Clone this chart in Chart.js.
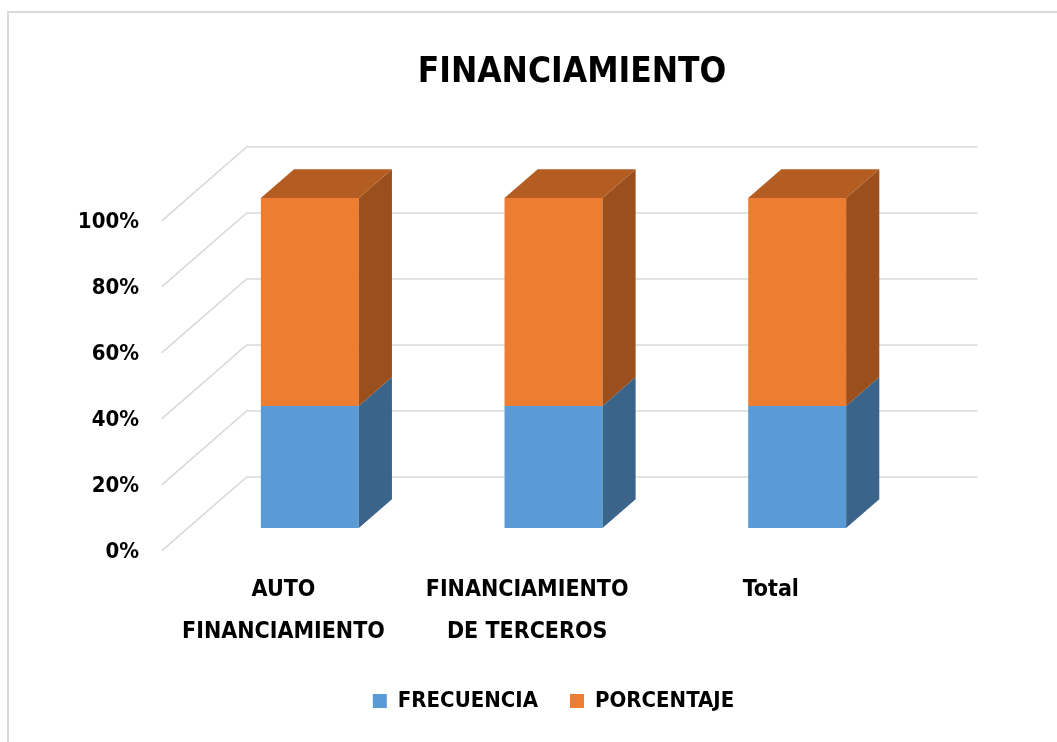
<!DOCTYPE html>
<html lang="es">
<head>
  <meta charset="UTF-8">
  <title>Financiamiento</title>
  <script src="https://cdn.jsdelivr.net/npm/chart.js"></script>
  <style>
    body { margin: 0; background: #fff; }
    canvas { display: block; }
  </style>
</head>
<body>
  <canvas id="finChart" width="1057" height="742"></canvas>
  <script>
    // datos
    const categories = [['AUTO', 'FINANCIAMIENTO'], ['FINANCIAMIENTO', 'DE TERCEROS'], 'Total'];
    const frecuencia = [37, 37, 37];
    const porcentaje = [63, 63, 63];
    const yTicks = [0, 20, 40, 60, 80, 100];

    const FONT = "'DejaVu Sans Condensed', 'Liberation Sans Narrow', sans-serif";

    // profundidad 3D (vector del piso), fracciones para plano frontal / barra / fondo
    const DEPTH = { x: 85, y: -74 };
    const FRONT = -0.31, BAR = 0.39, BACK = 0.69;

    const shade = {
      blue: { side: '#3A6489', top: '#4A80B0' },
      orange: { side: '#9A4F1D', top: '#B35D22' }
    };

    const threeD = {
      id: 'threeD',
      beforeDraw(chart) {
        const ctx = chart.ctx;
        ctx.save();
        ctx.fillStyle = '#fff';
        ctx.fillRect(0, 0, chart.width, chart.height);
        // marco
        ctx.strokeStyle = '#d9d9d9';
        ctx.lineWidth = 2;
        ctx.beginPath();
        ctx.moveTo(8, 742);
        ctx.lineTo(8, 12);
        ctx.lineTo(1057, 12);
        ctx.stroke();
        // titulo
        ctx.fillStyle = '#000';
        ctx.font = 'bold 35px ' + FONT;
        ctx.textAlign = 'center';
        ctx.textBaseline = 'middle';
        ctx.fillText('FINANCIAMIENTO', 572, 73);
        ctx.restore();
      },
      beforeDatasetsDraw(chart) {
        const ctx = chart.ctx;
        const y = chart.scales.y;
        const a = chart.chartArea;
        ctx.save();
        ctx.strokeStyle = '#d9d9d9';
        ctx.lineWidth = 1.5;
        yTicks.forEach(v => {
          const py = y.getPixelForValue(v);
          ctx.beginPath();
          ctx.moveTo(a.left + FRONT * DEPTH.x, py + FRONT * DEPTH.y);
          ctx.lineTo(a.left + BACK * DEPTH.x, py + BACK * DEPTH.y);
          ctx.lineTo(a.right + BACK * DEPTH.x, py + BACK * DEPTH.y);
          ctx.stroke();
        });
        // etiquetas eje y
        ctx.fillStyle = '#000';
        ctx.font = 'bold 22px ' + FONT;
        ctx.textAlign = 'right';
        ctx.textBaseline = 'middle';
        yTicks.forEach(v => {
          const py = y.getPixelForValue(v) + FRONT * DEPTH.y;
          ctx.fillText(v + '%', 139, py + 1);
        });
        // etiquetas eje x
        const x = chart.scales.x;
        ctx.font = 'bold 23px ' + FONT;
        ctx.textAlign = 'center';
        categories.forEach((c, i) => {
          const px = x.getPixelForValue(i) + FRONT * DEPTH.x;
          const lines = Array.isArray(c) ? c : [c];
          lines.forEach((t, j) => {
            ctx.fillText(t, px, 590 + j * 42);
          });
        });
        ctx.restore();
      },
      afterDatasetsDraw(chart) {
        const ctx = chart.ctx;
        const dx = BAR * DEPTH.x, dy = BAR * DEPTH.y;
        const keys = ['blue', 'orange'];
        ctx.save();
        chart.data.datasets.forEach((ds, di) => {
          const meta = chart.getDatasetMeta(di);
          meta.data.forEach(bar => {
            const l = bar.x - bar.width / 2, r = bar.x + bar.width / 2;
            const top = Math.min(bar.y, bar.base), bot = Math.max(bar.y, bar.base);
            // cara lateral
            ctx.fillStyle = shade[keys[di]].side;
            ctx.beginPath();
            ctx.moveTo(r, top);
            ctx.lineTo(r + dx, top + dy);
            ctx.lineTo(r + dx, bot + dy);
            ctx.lineTo(r, bot);
            ctx.closePath();
            ctx.fill();
            // cara superior (solo la ultima serie)
            if (di === chart.data.datasets.length - 1) {
              ctx.fillStyle = shade[keys[di]].top;
              ctx.beginPath();
              ctx.moveTo(l, top);
              ctx.lineTo(l + dx, top + dy);
              ctx.lineTo(r + dx, top + dy);
              ctx.lineTo(r, top);
              ctx.closePath();
              ctx.fill();
            }
          });
        });
        ctx.restore();
      }
    };

    new Chart(document.getElementById('finChart'), {
      type: 'bar',
      data: {
        labels: categories,
        datasets: [
          { label: 'FRECUENCIA', data: frecuencia, backgroundColor: '#5B9BD5' },
          { label: 'PORCENTAJE', data: porcentaje, backgroundColor: '#ED7D31' }
        ]
      },
      options: {
        responsive: false,
        animation: false,
        layout: { padding: { left: 188, right: 138, top: 198, bottom: 20 } },
        scales: {
          x: {
            stacked: true,
            grid: { display: false },
            border: { display: false },
            ticks: { display: false },
            afterFit: s => { s.height = 130; }
          },
          y: {
            stacked: true,
            min: 0,
            max: 100,
            grid: { display: false },
            border: { display: false },
            ticks: { display: false, stepSize: 20 },
            afterFit: s => { s.width = 0; }
          }
        },
        datasets: { bar: { barPercentage: 0.402, categoryPercentage: 1 } },
        plugins: {
          title: { display: false },
          tooltip: { enabled: false },
          legend: {
            position: 'bottom',
            labels: {
              color: '#000',
              font: { family: FONT, size: 22, weight: 'bold' },
              boxWidth: 14,
              boxHeight: 14,
              padding: 32
            }
          }
        }
      },
      plugins: [threeD]
    });
  </script>
</body>
</html>
